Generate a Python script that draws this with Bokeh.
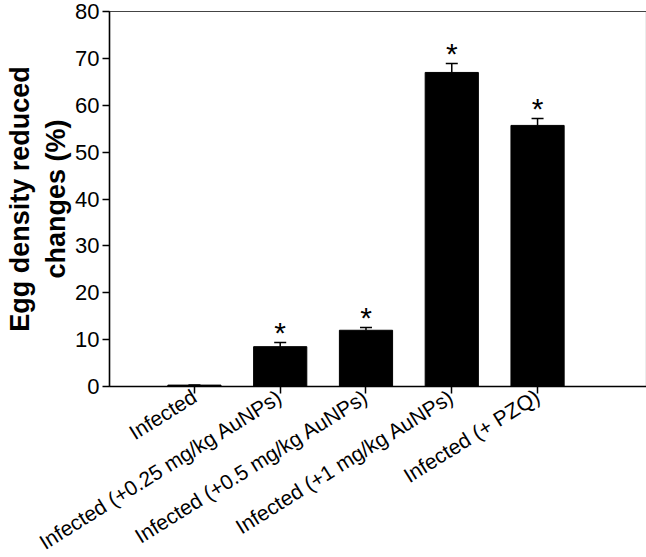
import math
from bokeh.plotting import figure
from bokeh.models import Range1d, FixedTicker, ColumnDataSource, Whisker, Title
from bokeh.core.properties import value
from bokeh.embed import file_html
from bokeh.resources import INLINE

categories = ["Infected",
              "Infected (+0.25 mg/kg AuNPs)",
              "Infected (+0.5 mg/kg AuNPs)",
              "Infected (+1 mg/kg AuNPs)",
              "Infected (+ PZQ)"]
means = [0.3, 8.5, 12.0, 67.0, 55.7]
errors = [0.0, 0.9, 0.6, 1.9, 1.5]
significant = ["", "*", "*", "*", "*"]
y_ticks = [0, 10, 20, 30, 40, 50, 60, 70, 80]
y_title = ["Egg density reduced", "changes (%)"]

xs = list(range(1, len(categories) + 1))
upper = [m + e for m, e in zip(means, errors)]

src = ColumnDataSource(dict(x=xs, top=means, upper=upper, lower=means, star=significant))

FONT = "Liberation Sans"

p = figure(frame_width=537, frame_height=375, output_backend="svg", toolbar_location=None,
           x_range=Range1d(0.01, 6.27), y_range=Range1d(0, 80),
           min_border_left=107, min_border_right=2, min_border_top=11, min_border_bottom=160)

p.vbar(x="x", top="top", bottom=0, width=0.62, source=src,
       fill_color="black", line_color="black")

w = Whisker(base="x", upper="upper", lower="lower", source=src,
            line_color="black", line_width=1.5, dimension="height")
w.upper_head.size = 12
w.upper_head.line_color = "black"
w.upper_head.line_width = 1.5
w.lower_head = None
p.add_layout(w)

p.text(x="x", y="upper", text="star", source=src, text_align="center",
       text_baseline="alphabetic", y_offset=-10, text_font=value(FONT),
       text_font_size="30px", text_color="black")

p.grid.visible = False
p.outline_line_color = "#444444"
p.outline_line_width = 1.2

p.yaxis.ticker = FixedTicker(ticks=y_ticks)
p.yaxis.minor_tick_line_color = None
p.yaxis.major_tick_out = 7
p.yaxis.major_tick_in = 0
p.yaxis.major_label_standoff = 3
p.yaxis.major_label_text_font = FONT
p.yaxis.major_label_text_font_size = "22px"
p.yaxis.major_label_text_color = "black"

# two-line y-axis title as left-side titles (inner line first)
for line in reversed(y_title):
    p.add_layout(Title(text=line, align="center", text_font=FONT, text_font_style="bold",
                       text_font_size="27px", text_color="black", standoff=4), "left")

p.xaxis.ticker = FixedTicker(ticks=xs)
p.xaxis.major_label_overrides = {x: c for x, c in zip(xs, categories)}
p.xaxis.minor_tick_line_color = None
p.xaxis.major_tick_out = 7
p.xaxis.major_tick_in = 0
p.xaxis.major_label_standoff = 1
p.xaxis.major_label_orientation = math.radians(32)
p.xaxis.major_label_text_font = FONT
p.xaxis.major_label_text_font_size = "21px"
p.xaxis.major_label_text_color = "black"

for ax in (p.xaxis, p.yaxis):
    ax.axis_line_color = "black"
    ax.axis_line_width = 1.5
    ax.major_tick_line_color = "black"
    ax.major_tick_line_width = 1.5

open("out.html", "w").write(file_html(p, INLINE))
